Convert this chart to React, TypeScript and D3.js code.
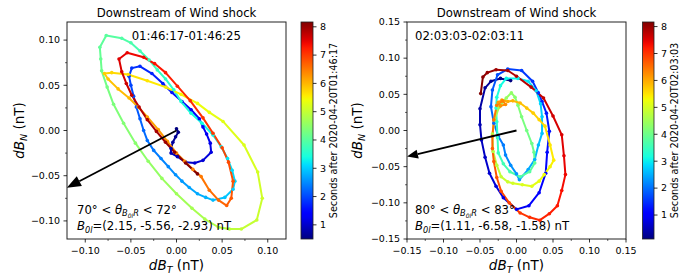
import React from 'react';
import * as d3 from 'd3';

const W = 698;
const H = 277;
const FONT = '"DejaVu Sans", Verdana, sans-serif';

// hodogram, event 1 (01:46:17 - 01:46:25), nT
const leftBT = [
  0.000, 0.002, -0.001, -0.004, -0.006, -0.006, 0.001, 0.010, 0.020, 0.029, 0.038, 0.037, 0.033,
  0.029, 0.025, 0.016, 0.006, -0.005, -0.015, -0.027, -0.040, -0.049, -0.052,
  -0.050, -0.047, -0.044, -0.040, -0.036, -0.032, -0.025, -0.017, -0.009, -0.001, 0.006, 0.014, 0.023, 0.032, 0.040, 0.053, 0.062, 0.064,
  0.061, 0.056, 0.049, 0.040, 0.028, 0.016, 0.005, -0.003, -0.012, -0.021, -0.030, -0.040, -0.050, -0.060,
  -0.077, -0.084, -0.083, -0.082, -0.076, -0.069, -0.058, -0.045, -0.031, -0.016, 0.000, 0.017, 0.031, 0.046, 0.058, 0.071, 0.088, 0.094, 0.089, 0.074,
  0.051, 0.036, 0.023, 0.005, -0.012, -0.032, -0.053, -0.071,
  -0.079, -0.075, -0.064, -0.052, -0.042, -0.032, -0.020, -0.010, 0.000, 0.009, 0.018, 0.027, 0.036, 0.046, 0.055,
  0.060, 0.062, 0.057, 0.050, 0.040, 0.029, 0.015, 0.001, -0.012, -0.024, -0.036, -0.054, -0.063,
  -0.060, -0.055, -0.049, -0.041, -0.032, -0.022, -0.012, -0.002, 0.010, 0.023,
];
const leftBN = [
  0.002, -0.002, -0.007, -0.013, -0.020, -0.025, -0.029, -0.035, -0.036, -0.033, -0.024, -0.014, -0.004,
  0.004, 0.013, 0.023, 0.032, 0.042, 0.052, 0.063, 0.071, 0.069, 0.060,
  0.050, 0.038, 0.026, 0.013, 0.000, -0.011, -0.022, -0.031, -0.040, -0.049, -0.056, -0.063, -0.070, -0.074, -0.077, -0.074, -0.065, -0.056,
  -0.044, -0.031, -0.018, -0.005, 0.008, 0.019, 0.032, 0.045, 0.057, 0.067, 0.078, 0.088, 0.097, 0.102,
  0.105, 0.092, 0.079, 0.066, 0.048, 0.029, 0.008, -0.014, -0.034, -0.053, -0.070, -0.086, -0.098, -0.107, -0.109, -0.109, -0.099, -0.075, -0.046, -0.016,
  0.010, 0.020, 0.030, 0.040, 0.048, 0.055, 0.062, 0.064,
  0.063, 0.057, 0.046, 0.036, 0.026, 0.015, 0.001, -0.012, -0.025, -0.034, -0.043, -0.051, -0.066, -0.077, -0.083,
  -0.075, -0.056, -0.035, -0.019, -0.003, 0.014, 0.033, 0.049, 0.064, 0.074, 0.081, 0.086, 0.079,
  0.065, 0.052, 0.039, 0.026, 0.012, -0.001, -0.013, -0.024, -0.036, -0.048,
];

// hodogram, event 2 (02:03:03 - 02:03:11), nT
const rightBT = [
  -0.008, -0.022, -0.035, -0.043, -0.050, -0.050, -0.048, -0.043, -0.037, -0.028, -0.018, 0.000, 0.017, 0.031, 0.040, 0.042, 0.045, 0.041, 0.035, 0.030, 0.022, 0.007, -0.012, -0.026, -0.033,
  -0.035, -0.031, -0.025, -0.018, -0.015, -0.008, 0.000, 0.004, 0.016, 0.025, 0.030, 0.035,
  0.035, 0.033, 0.027, 0.016, 0.002, -0.014, -0.022, -0.027, -0.028,
  -0.027, -0.026, -0.025, -0.018, -0.009, 0.005, 0.018, 0.025, 0.024, 0.021, 0.014, 0.007, 0.002, -0.002, -0.007,
  -0.014, -0.024, -0.030, -0.033, -0.032, -0.027, -0.021, -0.012, -0.005, 0.008, 0.021, 0.031, 0.038, 0.046, 0.051, 0.046,
  0.039, 0.031, 0.023, 0.014, 0.005, -0.005, -0.012, -0.020, -0.025, -0.022, -0.015, -0.019, -0.027,
  -0.031, -0.033, -0.033, -0.031, -0.027, -0.021, -0.010, 0.005, 0.018, 0.032, 0.045, 0.056, 0.062, 0.067, 0.065, 0.062,
  0.050, 0.037, 0.020, 0.000, -0.012, -0.028, -0.040, -0.046, -0.049,
];
const rightBN = [
  0.069, 0.072, 0.068, 0.059, 0.030, 0.008, -0.013, -0.037, -0.059, -0.077, -0.093, -0.109, -0.104, -0.086, -0.059, -0.030, -0.001, 0.024, 0.040, 0.052, 0.068, 0.083, 0.085, 0.077, 0.056,
  0.033, 0.010, -0.008, -0.020, -0.034, -0.048, -0.060, -0.068, -0.054, -0.040, -0.020, -0.004,
  0.019, 0.037, 0.055, 0.068, 0.072, 0.072, 0.062, 0.046, 0.031,
  0.012, -0.010, -0.031, -0.046, -0.057, -0.064, -0.057, -0.045, -0.030, -0.018, 0.000, 0.019, 0.035, 0.046, 0.052,
  0.045, 0.032, 0.015, -0.005, -0.029, -0.048, -0.064, -0.071, -0.073, -0.075, -0.077, -0.070, -0.061, -0.050, -0.041, -0.020,
  0.006, 0.015, 0.024, 0.031, 0.038, 0.041, 0.040, 0.042, 0.039, 0.034, 0.036, 0.041, 0.035,
  0.015, -0.008, -0.025, -0.043, -0.065, -0.084, -0.100, -0.114, -0.120, -0.124, -0.115, -0.104, -0.083, -0.061, -0.035, -0.006,
  0.020, 0.045, 0.060, 0.075, 0.083, 0.084, 0.080, 0.074, 0.051,
];

const titles = ['Downstream of Wind shock', 'Downstream of Wind shock'];
const intervals = ['01:46:17-01:46:25', '02:03:03-02:03:11'];
const thetaLow = ['70°', '80°'];
const thetaHigh = ['72°', '83°'];
const b0Text = ['(2.15, -5.56, -2.93) nT', '(1.11, -6.58, -1.58) nT'];
const b0T = [-5.56, -6.58];
const b0N = [-2.93, -1.58];
const arrowScale = [0.0216, 0.0228];
const cbLabels = ['Seconds after 2020-04-20T01:46:17', 'Seconds after 2020-04-20T02:03:03'];
const timeStart = [0.5, 0.11];
const timeEnd = [8.17, 8.17];
const axisLimit = [0.12, 0.15];
const majorTicks = [
  [-0.1, -0.05, 0, 0.05, 0.1],
  [-0.15, -0.1, -0.05, 0, 0.05, 0.1, 0.15],
];
const minorTicks = [
  [-0.075, -0.025, 0.025, 0.075],
  [-0.125, -0.075, -0.025, 0.025, 0.075, 0.125],
];
const cbTicks = [1, 2, 3, 4, 5, 6, 7, 8];

// matplotlib jet
const jetR = d3.scaleLinear([0, 0.35, 0.66, 0.89, 1], [0, 0, 1, 1, 0.5]).clamp(true);
const jetG = d3.scaleLinear([0, 0.125, 0.375, 0.64, 0.91, 1], [0, 0, 1, 1, 0, 0]).clamp(true);
const jetB = d3.scaleLinear([0, 0.11, 0.34, 0.65, 1], [0.5, 1, 1, 0, 0]).clamp(true);
const jet = (v: number) => d3.rgb(jetR(v) * 255, jetG(v) * 255, jetB(v) * 255).formatHex();

const fmt = (v: number) => d3.format('.2f')(v).replace('-', '\u2212');

const layouts = [
  { x0: 67, x1: 286, cb0: 301, cb1: 313, yLab: 24, cbLab: 337, ivX: 131.7, annX: 77, headLen: 14, headW: 11 },
  { x0: 407, x1: 626, cb0: 642.5, cb1: 654, yLab: 362, cbLab: 678, ivX: 415, annX: 415, headLen: 11, headW: 9 },
];
const Y0 = 22;
const Y1 = 239;

const Panel = ({ k, bt, bn }: { k: number; bt: number[]; bn: number[] }) => {
  const L = layouts[k];
  const lim = axisLimit[k];
  const sx = d3.scaleLinear().domain([-lim, lim]).range([L.x0, L.x1]);
  const sy = d3.scaleLinear().domain([-lim, lim]).range([Y1, Y0]);
  const n = bt.length;
  // samples are evenly spaced over the interval
  const times = d3.range(n).map((i) => timeStart[k] + (i * (timeEnd[k] - timeStart[k])) / (n - 1));
  const norm = d3.scaleLinear().domain([timeStart[k], timeEnd[k]]).range([0, 1]);
  const cy = d3.scaleLinear().domain([timeStart[k], timeEnd[k]]).range([Y1, Y0]);
  const cx = (L.x0 + L.x1) / 2;
  const cy0 = (Y0 + Y1) / 2;

  // arrow from origin along projected B0
  const ax0 = sx(0), ay0 = sy(0);
  const ax1 = sx(b0T[k] * arrowScale[k]), ay1 = sy(b0N[k] * arrowScale[k]);
  const len = Math.hypot(ax1 - ax0, ay1 - ay0);
  const ux = (ax1 - ax0) / len, uy = (ay1 - ay0) / len;
  const bx = ax1 - ux * L.headLen, by = ay1 - uy * L.headLen;
  const head = [
    [ax1, ay1],
    [bx - uy * L.headW / 2, by + ux * L.headW / 2],
    [bx + uy * L.headW / 2, by - ux * L.headW / 2],
  ];

  const gid = `jet${k}`;
  const clip = `clip${k}`;
  const stops = d3.range(0, 1.0001, 0.02);

  return (
    <g fontFamily={FONT}>
      <defs>
        <linearGradient id={gid} x1="0" y1="1" x2="0" y2="0">
          {stops.map((s) => (
            <stop key={s} offset={s} stopColor={jet(s)} />
          ))}
        </linearGradient>
        <clipPath id={clip}>
          <rect x={L.x0} y={Y0} width={L.x1 - L.x0} height={Y1 - Y0} />
        </clipPath>
      </defs>

      <text x={cx} y={16.5} textAnchor="middle" fontSize={11.7} fill="#000">{titles[k]}</text>

      <g clipPath={`url(#${clip})`}>
        {d3.range(n - 1).map((i) => (
          <line
            key={'s' + i}
            x1={sx(bt[i])}
            y1={sy(bn[i])}
            x2={sx(bt[i + 1])}
            y2={sy(bn[i + 1])}
            stroke={jet(norm((times[i] + times[i + 1]) / 2))}
            strokeWidth={2}
            strokeLinecap="round"
          />
        ))}
        {d3.range(n).map((i) => (
          <circle key={'p' + i} cx={sx(bt[i])} cy={sy(bn[i])} r={1.8} fill={jet(norm(times[i]))} />
        ))}
        <line x1={ax0} y1={ay0} x2={bx} y2={by} stroke="#000" strokeWidth={1.8} />
        <polygon points={head.map((p) => p.join(',')).join(' ')} fill="#000" />
      </g>

      <text x={L.ivX} y={40} fontSize={11.7}>{intervals[k]}</text>
      <text x={L.annX} y={213.5} fontSize={11.7}>
        {thetaLow[k] + ' < '}
        <tspan fontStyle="italic">θ</tspan>
        <tspan fontSize={8.2} dy={2.5} fontStyle="italic">B</tspan>
        <tspan fontSize={6} dy={1.5} fontStyle="italic">0l</tspan>
        <tspan fontSize={8.2} dy={-1.5} fontStyle="italic">R</tspan>
        <tspan dy={-2.5}>{' < ' + thetaHigh[k]}</tspan>
      </text>
      <text x={L.annX} y={230} fontSize={11.7}>
        <tspan fontStyle="italic">B</tspan>
        <tspan fontSize={8.2} dy={2.5} fontStyle="italic">0l</tspan>
        <tspan dy={-2.5}>{'=' + b0Text[k]}</tspan>
      </text>

      <rect x={L.x0} y={Y0} width={L.x1 - L.x0} height={Y1 - Y0} fill="none" stroke="#222" strokeWidth={1} />

      {majorTicks[k].map((t) => (
        <g key={'mx' + t}>
          <line x1={sx(t)} x2={sx(t)} y1={Y1} y2={Y1 + 3.5} stroke="#000" strokeWidth={0.8} />
          <text x={sx(t)} y={253.5} textAnchor="middle" fontSize={9.5}>{fmt(t)}</text>
          <line x1={L.x0} x2={L.x0 - 3.5} y1={sy(t)} y2={sy(t)} stroke="#000" strokeWidth={0.8} />
          <text x={L.x0 - 7} y={sy(t)} dy="0.35em" textAnchor="end" fontSize={9.5}>{fmt(t)}</text>
        </g>
      ))}
      {minorTicks[k].map((t) => (
        <g key={'mn' + t}>
          <line x1={sx(t)} x2={sx(t)} y1={Y1} y2={Y1 + 2} stroke="#000" strokeWidth={0.6} />
          <line x1={L.x0} x2={L.x0 - 2} y1={sy(t)} y2={sy(t)} stroke="#000" strokeWidth={0.6} />
        </g>
      ))}

      <text x={cx} y={270} textAnchor="middle" fontSize={13.5}>
        <tspan fontStyle="italic">dB</tspan>
        <tspan fontSize={9.5} dy={3} fontStyle="italic">T</tspan>
        <tspan dy={-3}>{' (nT)'}</tspan>
      </text>
      <text transform={`translate(${L.yLab},${cy0}) rotate(-90)`} textAnchor="middle" fontSize={13.5}>
        <tspan fontStyle="italic">dB</tspan>
        <tspan fontSize={9.5} dy={3} fontStyle="italic">N</tspan>
        <tspan dy={-3}>{' (nT)'}</tspan>
      </text>

      <rect x={L.cb0} y={Y0} width={L.cb1 - L.cb0} height={Y1 - Y0} fill={`url(#${gid})`} stroke="#222" strokeWidth={0.8} />
      {cbTicks.map((t) => (
        <g key={'cb' + t}>
          <line x1={L.cb1} x2={L.cb1 + 3.5} y1={cy(t)} y2={cy(t)} stroke="#000" strokeWidth={0.8} />
          <text x={L.cb1 + 7} y={cy(t)} dy="0.35em" fontSize={9.5}>{t}</text>
        </g>
      ))}
      <text transform={`translate(${L.cbLab},${cy0}) rotate(-90)`} textAnchor="middle" fontSize={9.7}>
        {cbLabels[k]}
      </text>
    </g>
  );
};

export default function App() {
  return (
    <svg
      width={W}
      height={H}
      viewBox={`0 0 ${W} ${H}`}
      style={{ position: 'absolute', left: 0, top: 0, background: '#fff' }}
    >
      <rect width={W} height={H} fill="#fff" />
      <Panel k={0} bt={leftBT} bn={leftBN} />
      <Panel k={1} bt={rightBT} bn={rightBN} />
    </svg>
  );
}
